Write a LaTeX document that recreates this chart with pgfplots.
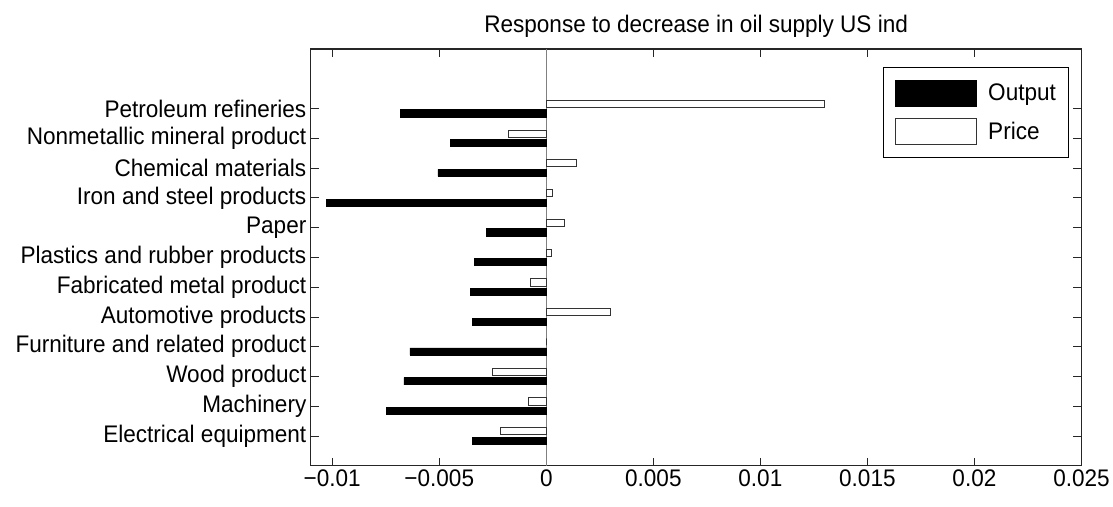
\documentclass[border=0pt]{standalone}
\usepackage{fontspec}
\setmainfont{Liberation Sans}[FakeStretch=0.94]
\usepackage{pgfplots}
\pgfplotsset{compat=1.18}

% values, 1 = Electrical equipment ... 12 = Petroleum refineries
\pgfplotstableread{
y  output    price
1  -0.00344  -0.00214
2  -0.00748  -0.00083
3  -0.00665  -0.00252
4  -0.00637   0.00000
5  -0.00344   0.00300
6  -0.00356  -0.00074
7  -0.00336   0.00022
8  -0.00280   0.00085
9  -0.01028   0.00030
10 -0.00506   0.00142
11 -0.00448  -0.00177
12 -0.00682   0.01299
}\ioitable

\begin{document}
\begin{tikzpicture}
\path (0,0) rectangle (1113pt,507pt);
\begin{axis}[
  at={(311pt,41pt)}, anchor=south west,
  width=771pt, height=417pt, scale only axis,
  xbar, bar width=0.24,
  xmin=-0.011, xmax=0.025, ymin=0, ymax=14,
  scaled x ticks=false,
  xtick={-0.01,-0.005,0,0.005,0.01,0.015,0.02,0.025},
  xticklabels={−0.01,−0.005,0,0.005,0.01,0.015,0.02,0.025},
  ytick={1,...,12},
  yticklabels={Electrical equipment,Machinery,Wood product,Furniture and related product,Automotive products,Fabricated metal product,Plastics and rubber products,Paper,Iron and steel products,Chemical materials,Nonmetallic mineral product,Petroleum refineries},
  tick pos=both, tick align=inside, major tick length=8pt,
  tick style={black!85, line width=0.8pt},
  axis line style={black!85, line width=1.1pt},
  tick label style={font=\fontsize{24}{28}\selectfont},
  yticklabel style={xshift=-1pt},
  title={Response to decrease in oil supply US ind},
  title style={font=\fontsize{24}{28}\selectfont, yshift=2pt},
  legend style={at={(0.9844,0.9568)}, anchor=north east,
    draw=black, line width=1.1pt, font=\fontsize{24}{28}\selectfont,
    inner xsep=12pt, inner ysep=12pt, row sep=12pt,
    nodes={inner sep=1pt},
    /tikz/every odd column/.append style={column sep=10pt},
    legend cell align=left},
  legend image code/.code={\draw[#1, line width=0.8pt] (0pt,-13pt) rectangle (81pt,13pt);},
]
\draw[gray, line width=1pt] (axis cs:0,0) -- (axis cs:0,14);
\addplot[fill=black, draw=black, line width=0.6pt, bar shift=-0.16] table[x=output, y=y] {\ioitable};
\addplot[fill=white, draw=black!80, line width=0.8pt, bar shift=0.16] table[x=price, y=y] {\ioitable};
\legend{Output,Price}
\end{axis}
\end{tikzpicture}
\end{document}
